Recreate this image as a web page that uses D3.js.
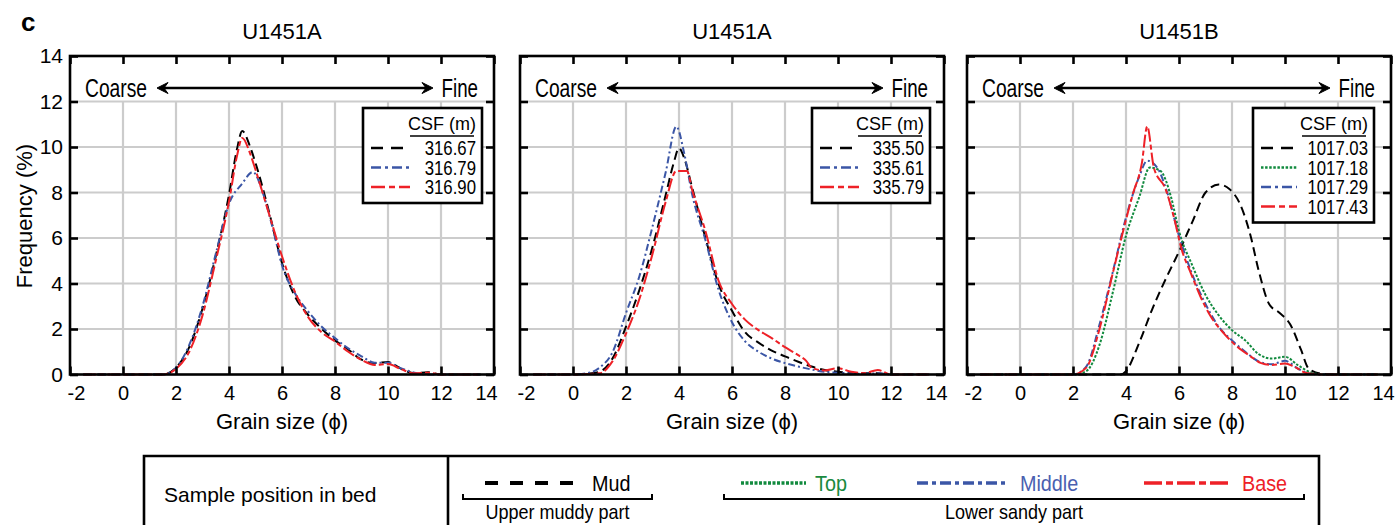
<!DOCTYPE html>
<html>
<head>
<meta charset="utf-8">
<script src="https://cdn.jsdelivr.net/npm/d3@7"></script>
<style>
  html, body { margin: 0; padding: 0; background: #fff; }
  svg text { font-family: "Liberation Sans", Arial, Helvetica, sans-serif; }
</style>
</head>
<body>
<svg id="chart" width="1396" height="525"></svg>
<script>
// ---------------- DATA ----------------
const xTicks = [-2, 0, 2, 4, 6, 8, 10, 12, 14];
const yTicks = [0, 2, 4, 6, 8, 10, 12, 14];
const panelTitles = ["U1451A", "U1451A", "U1451B"];
const csfLabels = [
  ["316.67", "316.79", "316.90"],
  ["335.50", "335.61", "335.79"],
  ["1017.03", "1017.18", "1017.29", "1017.43"]
];
const seriesRoles = [
  ["mud", "middle", "base"],
  ["mud", "middle", "base"],
  ["mud", "top", "middle", "base"]
];

// [grain size (phi), frequency (%)]
const s316_67 = [[-1.5,0],[1.5,0],[2,0.3],[2.5,1.2],[3,2.9],[3.5,5.2],[4,7.9],[4.3,9.9],[4.5,10.7],[4.8,10.0],[5,9.3],[5.5,7.2],[6,4.9],[6.5,3.4],[7,2.6],[7.5,2.0],[8,1.5],[8.5,1.1],[9,0.65],[9.5,0.5],[10,0.55],[10.5,0.25],[11,0.05],[11.5,0.1],[12,0],[13.5,0]];
const s316_79 = [[-1.5,0],[1.5,0],[2,0.3],[2.5,1.3],[3,3.0],[3.5,5.3],[4,7.5],[4.5,8.4],[4.9,8.9],[5.3,7.9],[5.7,6.2],[6,4.8],[6.5,3.55],[7,2.75],[7.5,2.1],[8,1.6],[8.5,1.15],[9,0.8],[9.5,0.52],[10,0.52],[10.5,0.27],[11,0.08],[11.5,0],[13.5,0]];
const s316_90 = [[-1.5,0],[1.5,0],[2,0.25],[2.5,1.0],[3,2.6],[3.5,5.0],[4,7.6],[4.3,9.6],[4.5,10.4],[4.8,9.7],[5,9.0],[5.5,7.1],[6,5.2],[6.5,3.6],[7,2.5],[7.5,1.85],[8,1.45],[8.5,1.0],[9,0.64],[9.5,0.42],[10,0.46],[10.5,0.23],[11,0.05],[11.5,0.08],[12,0],[13.5,0]];

const s335_50 = [[-1.5,0],[0,0],[0.5,0.03],[1,0.12],[1.5,0.72],[2,2.1],[2.5,3.7],[3,5.6],[3.5,7.9],[3.8,9.3],[4,9.95],[4.2,9.5],[4.5,8.2],[5,6.0],[5.5,3.95],[6,2.8],[6.5,1.85],[7,1.4],[7.5,1.05],[8,0.8],[8.5,0.56],[9,0.35],[9.5,0.2],[10,0.12],[10.5,0.08],[11,0.05],[11.5,0.05],[12,0],[13.5,0]];
const s335_61 = [[-1.5,0],[0,0],[0.5,0.05],[1,0.3],[1.5,1.0],[2,2.7],[2.5,4.3],[3,6.5],[3.5,8.9],[3.9,10.9],[4.2,9.7],[4.5,7.9],[5,5.9],[5.5,3.7],[6,2.3],[6.5,1.45],[7,1.0],[7.5,0.7],[8,0.5],[8.5,0.35],[9,0.22],[9.5,0.12],[10,0.08],[11,0.03],[11.5,0.05],[12,0],[13.5,0]];
const s335_79 = [[-1.5,0],[0,0],[0.5,0.02],[1,0.05],[1.5,0.6],[2,1.8],[2.5,3.3],[3,5.3],[3.5,7.6],[3.9,8.95],[4.3,8.95],[4.5,8.1],[5,6.3],[5.5,4.1],[6,3.1],[6.5,2.4],[7,1.95],[7.5,1.6],[8,1.2],[8.5,0.85],[8.8,0.6],[9,0.3],[9.5,0.18],[10,0.28],[10.5,0.12],[11,0.06],[11.5,0.2],[12,0],[13.5,0]];

const s1017_03 = [[-1.5,0],[3.8,0],[4,0.15],[4.5,1.4],[5,2.9],[5.5,4.2],[6,5.4],[6.5,6.7],[7,8.0],[7.5,8.35],[7.9,8.15],[8.3,7.5],[8.7,6.1],[9,4.6],[9.4,3.1],[9.8,2.7],[10.2,2.2],[10.6,1.1],[10.9,0.25],[11.4,0.03],[12,0],[13.5,0]];
const s1017_18 = [[-1.5,0],[2,0],[2.5,0.15],[3,1.3],[3.5,3.6],[4,6.1],[4.5,7.8],[4.9,9.1],[5.3,8.95],[5.7,7.8],[6,6.3],[6.5,4.8],[7,3.5],[7.5,2.6],[8,1.95],[8.5,1.5],[9,0.9],[9.5,0.7],[10,0.78],[10.5,0.4],[11,0.08],[11.5,0],[13.5,0]];
const s1017_29 = [[-1.5,0],[2,0],[2.5,0.35],[3,2.2],[3.5,4.5],[4,6.9],[4.5,8.7],[4.8,9.4],[5.2,9.05],[5.5,8.2],[6,6.1],[6.5,4.4],[7,3.1],[7.5,2.1],[8,1.5],[8.5,1.0],[9,0.58],[9.5,0.45],[10,0.6],[10.5,0.25],[11,0.03],[11.5,0],[13.5,0]];
const s1017_43 = [[-1.5,0],[2,0],[2.5,0.3],[3,2.0],[3.5,4.45],[4,6.8],[4.25,7.9],[4.6,9.3],[4.8,10.9],[5.05,9.1],[5.5,8.13],[5.8,6.95],[6.1,5.5],[6.45,4.45],[6.8,3.45],[7.2,2.55],[7.7,1.8],[8.2,1.22],[8.7,0.8],[9.1,0.5],[9.5,0.42],[10,0.48],[10.35,0.34],[10.85,0.05],[11.5,0],[13.5,0]];

const panelSeries = [
  [s316_67, s316_79, s316_90],
  [s335_50, s335_61, s335_79],
  [s1017_03, s1017_18, s1017_29, s1017_43]
];

const legendRoles = ["mud", "top", "middle", "base"];
const legendLabels = ["Mud", "Top", "Middle", "Base"];

// ---------------- STYLE ----------------
const roleStyle = {
  mud:    { color: "#000000", dash: "9,5",      legDash: "12,8",   text: "#000000" },
  top:    { color: "#118a3e", dash: "2.5,1.6",  legDash: "2.5,1.6", text: "#1a8a40" },
  middle: { color: "#3b56a6", dash: "7,3,2,3",  legDash: "10,4,3,4", text: "#4a60b0" },
  base:   { color: "#ee2127", dash: "13,3,5,3", legDash: "14,4,6,4", text: "#ee2127" }
};

const svg = d3.select("#chart");
const panelLeft = [70, 520, 967];
const plotTop = 56, W = 424, H = 318.5;
const legendLeft = [293, 292, 286];
const legendWidth = [119, 118, 121];

const x = d3.scaleLinear().domain([-2, 14]).range([0, W]);
const y = d3.scaleLinear().domain([0, 14]).range([H, 0]);
const line = d3.line().x(d => x(d[0])).y(d => y(d[1])).curve(d3.curveMonotoneX);

function ctext(sel, tx, ty, str, size, sx, anchor, fill) {
  return sel.append("text")
    .attr("transform", `translate(${tx},${ty}) scale(${sx},1)`)
    .attr("text-anchor", anchor)
    .style("font-size", size + "px")
    .attr("fill", fill || "#000")
    .text(str);
}

// panel label
svg.append("text").attr("x", 21).attr("y", 31).style("font-size", "26px")
  .style("font-weight", "bold").text("c");

// y axis title
svg.append("text").attr("transform", "translate(32,216) rotate(-90)")
  .attr("text-anchor", "middle").style("font-size", "22px").text("Frequency (%)");

panelTitles.forEach((title, p) => {
  const g = svg.append("g").attr("transform", `translate(${panelLeft[p]},${plotTop})`);

  // title
  g.append("text").attr("x", W / 2).attr("y", -17).attr("text-anchor", "middle")
    .style("font-size", "22px").text(title);

  // grid
  g.append("g").selectAll("line").data(yTicks.filter(t => t > 0 && t < 14)).join("line")
    .attr("x1", 0).attr("x2", W).attr("y1", d => y(d)).attr("y2", d => y(d))
    .attr("stroke", "#cccccc").attr("stroke-width", 2.2);
  g.append("g").selectAll("line").data(xTicks.filter(t => t > -2 && t < 14)).join("line")
    .attr("x1", d => x(d)).attr("x2", d => x(d)).attr("y1", y(0)).attr("y2", y(12))
    .attr("stroke", "#cccccc").attr("stroke-width", 2.2);

  // series
  panelSeries[p].forEach((s, i) => {
    const st = roleStyle[seriesRoles[p][i]];
    g.append("path").datum(s).attr("d", line)
      .attr("fill", "none").attr("stroke", st.color).attr("stroke-width", 2)
      .attr("stroke-dasharray", st.dash);
  });

  // coarse / fine band
  ctext(g, 15, 41, "Coarse", 25, 0.77, "start");
  ctext(g, W - 16, 41, "Fine", 25, 0.75, "end");
  const ax1 = 87, ax2 = 363, ay = 32;
  g.append("line").attr("x1", ax1 + 4).attr("x2", ax2 - 4).attr("y1", ay).attr("y2", ay)
    .attr("stroke", "#000").attr("stroke-width", 2.5);
  g.append("path").attr("d", `M${ax1},${ay} L${ax1 + 11},${ay - 5.5} L${ax1 + 7},${ay} L${ax1 + 11},${ay + 5.5} Z`)
    .attr("fill", "#000").attr("stroke", "#000").attr("stroke-width", 1);
  g.append("path").attr("d", `M${ax2},${ay} L${ax2 - 11},${ay - 5.5} L${ax2 - 7},${ay} L${ax2 - 11},${ay + 5.5} Z`)
    .attr("fill", "#000").attr("stroke", "#000").attr("stroke-width", 1);

  // in-panel legend
  const n = csfLabels[p].length;
  const lx = legendLeft[p], lw = legendWidth[p], ly = 52;
  const lh = 56 + (n - 1) * 19.5;
  const lg = g.append("g").attr("transform", `translate(${lx},${ly})`);
  lg.append("rect").attr("width", lw).attr("height", lh).attr("fill", "#fff")
    .attr("stroke", "#000").attr("stroke-width", 2.6);
  const hdr = lg.append("text").attr("x", lw - 6).attr("y", 22).attr("text-anchor", "end")
    .style("font-size", "18px").text("CSF (m)");
  const hw = hdr.node().getComputedTextLength();
  lg.append("line").attr("x1", lw - 6 - hw + 2).attr("x2", lw - 8).attr("y1", 28).attr("y2", 28)
    .attr("stroke", "#000").attr("stroke-width", 1.3);
  const lineEnd = n > 3 ? 44 : 47;
  csfLabels[p].forEach((lab, i) => {
    const st = roleStyle[seriesRoles[p][i]];
    const ry = 40 + i * 19.5;
    lg.append("line").attr("x1", 8).attr("x2", lineEnd).attr("y1", ry).attr("y2", ry)
      .attr("stroke", st.color).attr("stroke-width", 2.6).attr("stroke-dasharray", st.legDash);
    ctext(lg, lw - 6, ry + 7, lab, 19.5, 0.86, "end");
  });

  // border
  g.append("rect").attr("width", W).attr("height", H).attr("fill", "none")
    .attr("stroke", "#000").attr("stroke-width", 2.6);

  // axes (inward ticks)
  const styleAxis = a => {
    a.select(".domain").remove();
    a.selectAll(".tick line").attr("stroke", "#000").attr("stroke-width", 2.6);
    a.selectAll(".tick text").attr("fill", "#000").style("font-size", "20px")
      .style("font-family", "'Liberation Sans', Arial, sans-serif");
  };
  const gb = g.append("g").attr("transform", `translate(0,${H})`)
    .call(d3.axisBottom(x).tickValues(xTicks).tickSize(-8).tickPadding(11).tickFormat(d => String(d)));
  styleAxis(gb);
  gb.selectAll(".tick text").filter(d => d === -2).attr("x", 6);
  gb.selectAll(".tick text").filter(d => d === 14).attr("x", -8);

  const gt = g.append("g").call(d3.axisTop(x).tickValues(xTicks).tickSize(-8).tickFormat(""));
  styleAxis(gt);
  const gl = g.append("g").call(d3.axisLeft(y).tickValues(yTicks).tickSize(-8).tickPadding(7)
    .tickFormat(p === 0 ? (d => String(d)) : ""));
  styleAxis(gl);
  gl.selectAll(".tick text").style("font-size", "21px");
  const gr = g.append("g").attr("transform", `translate(${W},0)`)
    .call(d3.axisRight(y).tickValues(yTicks).tickSize(-8).tickFormat(""));
  styleAxis(gr);

  // x axis title
  g.append("text").attr("x", W / 2).attr("y", H + 54).attr("text-anchor", "middle")
    .style("font-size", "22px").text("Grain size (\u03D5)");
});

// ---------------- bottom legend ----------------
const bl = svg.append("g");
bl.append("path").attr("d", "M144,540 L144,456 L1319,456 L1319,540")
  .attr("fill", "none").attr("stroke", "#000").attr("stroke-width", 2.6);
bl.append("line").attr("x1", 448).attr("x2", 448).attr("y1", 456).attr("y2", 540)
  .attr("stroke", "#000").attr("stroke-width", 2.6);
bl.append("text").attr("x", 164).attr("y", 502).style("font-size", "21px").text("Sample position in bed");

const legLineX = [[485, 577], [741, 806], [917, 1008], [1144, 1232]];
const legTextX = [592, 815, 1020, 1242];
legendRoles.forEach((r, i) => {
  const st = roleStyle[r];
  bl.append("line").attr("x1", legLineX[i][0]).attr("x2", legLineX[i][1]).attr("y1", 483).attr("y2", 483)
    .attr("stroke", st.color).attr("stroke-width", r === "mud" ? 4 : 3.5)
    .attr("stroke-dasharray", r === "mud" ? "13,12" : r === "top" ? "3,1.5" : r === "middle" ? "11,4,4,4" : "18,4,7,4");
  ctext(bl, legTextX[i], 491, legendLabels[i], 22, 0.9, "start", st.text);
});

const brackets = [[463, 652, "Upper muddy part"], [724, 1304, "Lower sandy part"]];
brackets.forEach(b => {
  bl.append("path").attr("d", `M${b[0]},494 L${b[0]},499 L${b[1]},499 L${b[1]},494`)
    .attr("fill", "none").attr("stroke", "#000").attr("stroke-width", 2);
  ctext(bl, (b[0] + b[1]) / 2, 519, b[2], 20, 0.9, "middle");
});
</script>
</body>
</html>
